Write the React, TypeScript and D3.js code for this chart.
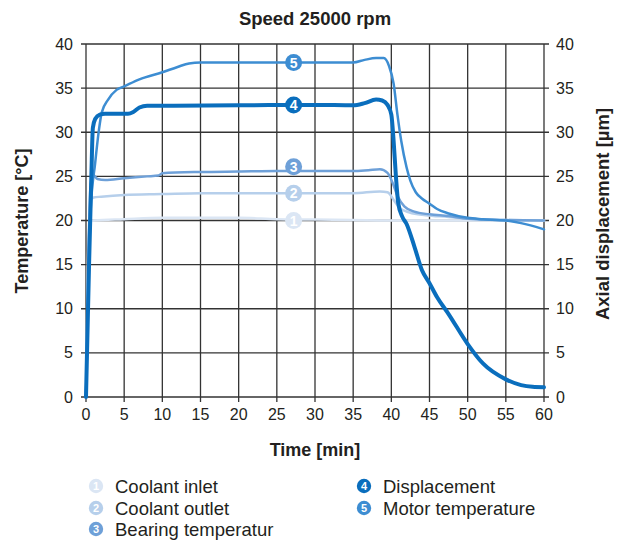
import React from "react";
import * as d3 from "d3";

type Pt = [number, number];

const title = "Speed 25000 rpm";
const xLabel = "Time [min]";
const yLabelLeft = "Temperature [°C]";
const yLabelRight = "Axial displacement [µm]";
const xTicks = [0, 5, 10, 15, 20, 25, 30, 35, 40, 45, 50, 55, 60];
const yTicks = [0, 5, 10, 15, 20, 25, 30, 35, 40];

const seriesNames = ["Coolant inlet", "Coolant outlet", "Bearing temperatur", "Displacement", "Motor temperature"];
const seriesColors = ["#dbe6f4", "#b6cfeb", "#6ea0d8", "#0a6ebd", "#3d8dd2"];
const seriesWidths = [2.5, 2.5, 2.5, 4, 2.5];

const inletData: Pt[] = [
  [0, 0], [0.4, 19.8], [1, 20.0], [5, 20.15], [10, 20.3], [20, 20.3], [25, 20.15], [30, 20.1],
  [35, 20.05], [40, 20.0], [45, 20.0], [50, 20.0], [55, 20.0], [60, 20.0],
];
const outletData: Pt[] = [
  [0, 0], [0.3, 14], [0.6, 22.3], [1, 22.6], [2, 22.7], [5, 22.9], [10, 23.0], [15, 23.1], [35, 23.1],
  [38.5, 23.3], [39.5, 23.2], [40.4, 22.2], [41, 21.5], [42.4, 20.9], [44.5, 20.6], [47.5, 20.4],
  [50, 20.2], [55, 20.05], [60, 20.0],
];
const bearingData: Pt[] = [
  [0, 0], [0.3, 15], [0.6, 24], [0.9, 25.2], [1.5, 24.7], [2.5, 24.6], [5, 24.8], [8, 25.0], [9.5, 25.1],
  [10, 25.35], [15, 25.5], [20, 25.55], [25, 25.6], [35, 25.6], [37, 25.7], [38.5, 25.8], [39.5, 25.4],
  [40.2, 24.2], [40.8, 22.8], [41.7, 21.6], [43, 21.0], [45, 20.7], [47.5, 20.5], [50, 20.2], [55, 20.05], [60, 20.0],
];
const displacementData: Pt[] = [
  [0, 0], [0.4, 15], [0.7, 25], [0.9, 30.5], [1.2, 31.5], [1.8, 32], [2.5, 32.1], [5.5, 32.1], [6.2, 32.3],
  [7, 32.8], [8, 33], [10, 33], [20, 33.05], [30, 33.1], [35, 33.05], [36.5, 33.3], [38, 33.7], [38.8, 33.6],
  [39.5, 33.1], [40, 32], [40.3, 29], [40.6, 25], [40.9, 22], [41.4, 20.5], [42, 19.6], [43, 17.1], [44, 14.4],
  [45, 12.9], [46, 11.3], [47.5, 9.4], [50, 6], [52, 3.8], [55, 2], [57, 1.35], [58.5, 1.15], [60, 1.1],
];
const motorData: Pt[] = [
  [0, 0], [0.3, 12], [0.6, 21], [1.2, 26.5], [1.7, 30.3], [2.05, 32.2], [2.9, 33.7], [4, 34.8], [5, 35.2],
  [7, 36], [10, 36.8], [12, 37.4], [13.5, 37.8], [15, 37.9], [35, 37.9], [36.5, 38.2], [38, 38.4], [39, 38.4],
  [39.7, 37.5], [40.3, 35.5], [40.8, 32], [41.3, 29], [42, 26], [42.5, 24.5], [43.2, 23.2], [44, 22.5],
  [45, 21.9], [46, 21.3], [47.5, 20.8], [50, 20.3], [52, 20.15], [55, 20.0], [57, 19.7], [60, 19.0],
];
const allSeries = [inletData, outletData, bearingData, displacementData, motorData];
const drawOrder = [0, 1, 2, 4, 3];

const markerTime = 27.2;
const markerValues = [20.0, 23.1, 26.1, 33.1, 37.9];

const FONT = "'Liberation Sans', Arial, Helvetica, sans-serif";
const TEXT = "#231f20";
const GRID = "#333333";

export default function App() {
  const W = 623, H = 540;
  const x = d3.scaleLinear().domain([0, 60]).range([86, 544]);
  const y = d3.scaleLinear().domain([0, 40]).range([397, 44]);
  const line = d3.line<Pt>().x(d => x(d[0])).y(d => y(d[1])).curve(d3.curveMonotoneX);

  const legendPos = [
    { cx: 96, cy: 486 }, { cx: 96, cy: 508 }, { cx: 96, cy: 529 },
    { cx: 364, cy: 486 }, { cx: 364, cy: 508 },
  ];

  return (
    <svg width={W} height={H} style={{ position: "absolute", left: 0, top: 0, background: "#fff" }} fontFamily={FONT}>
      <text x={315} y={25} textAnchor="middle" fontWeight="bold" fontSize={18.5} fill={TEXT}>{title}</text>
      {xTicks.map(t => (
        <line key={"v" + t} x1={x(t)} x2={x(t)} y1={y(40)} y2={y(0) + 5} stroke={GRID} strokeWidth={1.3} />
      ))}
      {yTicks.map(v => (
        <line key={"h" + v} x1={x(0) - 5} x2={x(60) + 5} y1={y(v)} y2={y(v)} stroke={GRID} strokeWidth={1.3} />
      ))}
      {yTicks.map(v => (
        <text key={"yl" + v} x={73} y={y(v)} dy="0.35em" textAnchor="end" fontSize={16} fill={TEXT}>{v}</text>
      ))}
      {yTicks.map(v => (
        <text key={"yr" + v} x={556} y={y(v)} dy="0.35em" textAnchor="start" fontSize={16} fill={TEXT}>{v}</text>
      ))}
      {xTicks.map(t => (
        <text key={"xl" + t} x={x(t)} y={414} dy="0.35em" textAnchor="middle" fontSize={16} fill={TEXT}>{t}</text>
      ))}
      <text x={315} y={456} textAnchor="middle" fontWeight="bold" fontSize={18} fill={TEXT}>{xLabel}</text>
      <text transform={`translate(28,221) rotate(-90)`} textAnchor="middle" fontWeight="bold" fontSize={18} fill={TEXT}>{yLabelLeft}</text>
      <text transform={`translate(609,214) rotate(-90)`} textAnchor="middle" fontWeight="bold" fontSize={18.5} fill={TEXT}>{yLabelRight}</text>

      {drawOrder.map(i => (
        <path key={"s" + i} d={line(allSeries[i]) || ""} fill="none" stroke={seriesColors[i]} strokeWidth={seriesWidths[i]} strokeLinejoin="round" strokeLinecap="round" />
      ))}
      {drawOrder.map(i => (
        <g key={"m" + i}>
          <circle cx={x(markerTime)} cy={y(markerValues[i])} r={8.5} fill={seriesColors[i]} />
          <text x={x(markerTime)} y={y(markerValues[i])} dy="0.36em" textAnchor="middle" fontWeight="bold" fontSize={14} fill="#fff">{i + 1}</text>
        </g>
      ))}

      {seriesNames.map((n, i) => (
        <g key={"lg" + i}>
          <circle cx={legendPos[i].cx} cy={legendPos[i].cy} r={7.2} fill={seriesColors[i]} />
          <text x={legendPos[i].cx} y={legendPos[i].cy} dy="0.36em" textAnchor="middle" fontWeight="bold" fontSize={11} fill="#fff">{i + 1}</text>
          <text x={legendPos[i].cx + 19} y={legendPos[i].cy} dy="0.36em" fontSize={18.5} fill={TEXT}>{n}</text>
        </g>
      ))}
    </svg>
  );
}
